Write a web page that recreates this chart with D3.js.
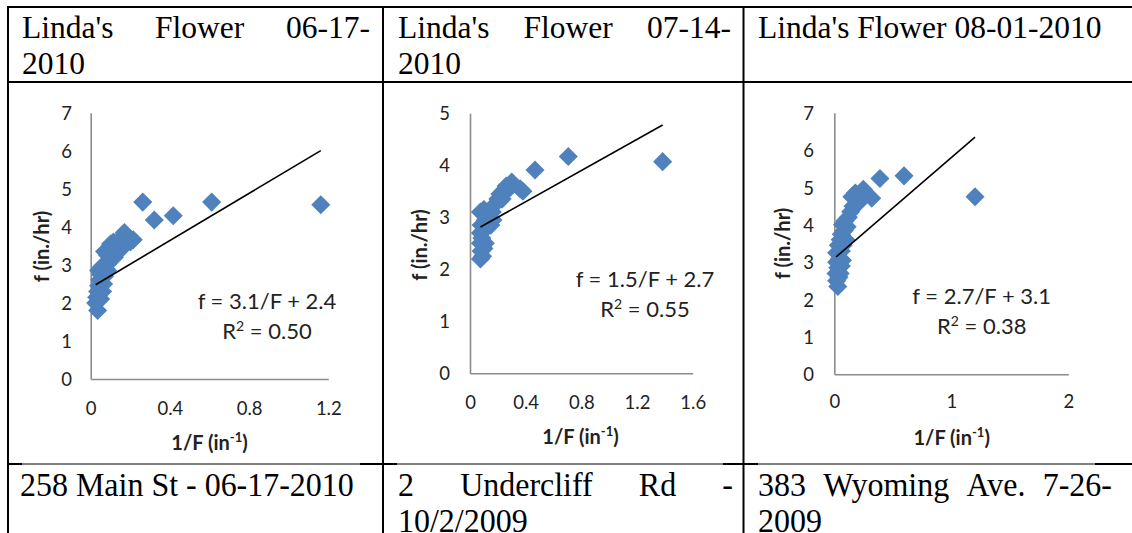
<!DOCTYPE html>
<html><head><meta charset="utf-8">
<script src="https://cdn.jsdelivr.net/npm/d3@7"></script>
<style>body{margin:0;background:#fff}svg{display:block}</style>
</head><body>
<svg id="c" width="1132" height="533"></svg>
<script>
// ---------- DATA ----------
const headerTitles = [["Linda's Flower 06-17-", "2010"], ["Linda's Flower 07-14-", "2010"], ["Linda's Flower 08-01-2010"]];
const footerTitles = [["258 Main St - 06-17-2010"], ["2 Undercliff Rd -", "10/2/2009"], ["383 Wyoming Ave. 7-26-", "2009"]];

const chart1X = [0.035,0.025,0.030,0.035,0.040,0.045,0.050,0.040,0.055,0.070,0.065,0.060,0.050,0.075,0.090,0.085,0.070,0.095,0.100,0.115,0.110,0.100,0.120,0.140,0.135,0.150,0.160,0.170,0.185,0.200,0.215,0.160,0.085,0.263,0.321,0.417,0.611,1.162];
const chart1Y = [1.80,2.00,2.15,2.30,2.45,2.60,2.75,2.85,2.95,2.70,2.50,2.30,2.10,2.90,3.05,3.25,3.35,3.40,3.55,3.60,3.45,3.20,3.20,3.35,3.55,3.65,3.75,3.85,3.70,3.60,3.66,3.45,2.85,4.65,4.18,4.29,4.65,4.58];

const chart2X = [0.075,0.090,0.080,0.100,0.075,0.110,0.085,0.075,0.100,0.120,0.150,0.165,0.080,0.110,0.075,0.100,0.130,0.160,0.180,0.200,0.215,0.240,0.260,0.300,0.280,0.360,0.380,0.230,0.467,0.706,1.384];
const chart2Y = [2.20,2.25,2.35,2.40,2.50,2.50,2.60,2.70,2.75,2.80,2.85,2.95,2.85,2.95,3.10,3.15,3.10,3.10,3.25,3.35,3.45,3.50,3.60,3.68,3.55,3.55,3.50,3.35,3.91,4.17,4.07];

const chart3X = [0.030,0.020,0.040,0.015,0.050,0.030,0.060,0.020,0.045,0.070,0.020,0.060,0.035,0.075,0.050,0.100,0.060,0.085,0.070,0.110,0.090,0.120,0.140,0.160,0.190,0.150,0.180,0.220,0.248,0.210,0.320,0.390,0.596,1.203];
const chart3Y = [2.35,2.50,2.60,2.70,2.70,2.85,2.90,3.00,3.10,3.05,3.25,3.30,3.45,3.45,3.60,3.60,3.75,3.85,4.00,3.95,4.10,4.20,4.35,4.50,4.55,4.75,4.85,4.75,4.95,4.60,4.71,5.24,5.31,4.75];

const xTicks1 = [0, 0.4, 0.8, 1.2];
const xTicks2 = [0, 0.4, 0.8, 1.2, 1.6];
const xTicks3 = [0, 1, 2];
const yTicks1 = [0, 1, 2, 3, 4, 5, 6, 7];
const yTicks2 = [0, 1, 2, 3, 4, 5];
const yTicks3 = [0, 1, 2, 3, 4, 5, 6, 7];

const trendSlopes = [3.1, 1.5, 2.7];
const trendIntercepts = [2.4, 2.7, 3.1];
const equationLabels = ["f = 3.1/F + 2.4", "f = 1.5/F + 2.7", "f = 2.7/F + 3.1"];
const r2Labels = ["0.50", "0.55", "0.38"];
const xTitle = ["1/F (in", "-1", ")"];
const yTitle = "f (in./hr)";

// ---------- LAYOUT ----------
const svg = d3.select("#c");
const serif = "'Liberation Serif','Times New Roman',serif";
const sans = "Lato, 'Open Sans', sans-serif";

const panels = [
  {xs: chart1X, ys: chart1Y, xt: xTicks1, yt: yTicks1, xFmt: d => d === 0 ? "0" : d3.format(".1f")(d),
   L: 90.7, R: 328.3, T: 112.7, B: 379, xMax: 1.2, yMax: 7, yLabEnd: 72, xLabBase: 415,
   xTitle: [209.5, 450], yTitle: [42, 246.5], eq: [267, 309], r2: [267, 339]},
  {xs: chart2X, ys: chart2Y, xt: xTicks2, yt: yTicks2, xFmt: d => d === 0 ? "0" : d3.format(".1f")(d),
   L: 470, R: 692.7, T: 113.3, B: 373.3, xMax: 1.6, yMax: 5, yLabEnd: 450, xLabBase: 409,
   xTitle: [580.5, 444], yTitle: [420, 245], eq: [645, 287], r2: [645, 317]},
  {xs: chart3X, ys: chart3Y, xt: xTicks3, yt: yTicks3, xFmt: d => String(d),
   L: 834.3, R: 1068.3, T: 112.7, B: 374.3, xMax: 2, yMax: 7, yLabEnd: 814, xLabBase: 408,
   xTitle: [951.7, 445], yTitle: [783.3, 243.5], eq: [981.7, 304], r2: [981.7, 334]}
];

panels.forEach((p, i) => {
  const x = d3.scaleLinear().domain([0, p.xMax]).range([p.L, p.R]);
  const y = d3.scaleLinear().domain([0, p.yMax]).range([p.B, p.T]);
  const g = svg.append("g");

  // axes
  const gx = g.append("g").attr("transform", `translate(0,${p.B})`)
    .call(d3.axisBottom(x).tickValues(p.xt).tickFormat(p.xFmt).tickSize(0).tickSizeOuter(0));
  const gy = g.append("g").attr("transform", `translate(${p.L},0)`)
    .call(d3.axisLeft(y).tickValues(p.yt).tickFormat(d3.format("d")).tickSize(0).tickSizeOuter(0));
  [gx, gy].forEach(a => {
    a.attr("font-family", null).attr("font-size", null);
    a.select(".domain").attr("stroke", "#8c8c8c").attr("stroke-width", 1.6);
    a.selectAll("text").attr("font-family", sans).attr("font-size", 18.5).attr("fill", "#222");
  });
  gx.selectAll("text").attr("y", p.xLabBase - p.B).attr("dy", null);
  gy.selectAll("text").attr("x", p.yLabEnd - p.L).attr("dy", "0.36em");

  // trendline
  const xmin = d3.min(p.xs), xmax = d3.max(p.xs);
  const tl = [xmin, xmax].map(v => [v, trendSlopes[i] * v + trendIntercepts[i]]);

  // markers
  const sym = d3.symbol(d3.symbolSquare, 182)();
  g.append("g").selectAll("path").data(p.xs.map((v, k) => [v, p.ys[k]])).join("path")
    .attr("d", sym)
    .attr("transform", d => `translate(${x(d[0])},${y(d[1])}) rotate(45)`)
    .attr("fill", "#4f81bd");

  g.append("path").datum(tl)
    .attr("d", d3.line().x(d => x(d[0])).y(d => y(d[1])))
    .attr("stroke", "#000").attr("stroke-width", 1.6).attr("fill", "none");

  // equation
  g.append("text").attr("x", p.eq[0]).attr("y", p.eq[1]).attr("text-anchor", "middle")
    .attr("font-family", sans).attr("font-size", 22).attr("fill", "#222").text(equationLabels[i]);
  const r2 = g.append("text").attr("x", p.r2[0]).attr("y", p.r2[1]).attr("text-anchor", "middle")
    .attr("font-family", sans).attr("font-size", 22).attr("fill", "#222");
  r2.append("tspan").text("R");
  r2.append("tspan").attr("font-size", 14).attr("dy", -8).text("2");
  r2.append("tspan").attr("dy", 8).text(" = " + r2Labels[i]);

  // axis titles
  const xt = g.append("text").attr("x", p.xTitle[0]).attr("y", p.xTitle[1]).attr("text-anchor", "middle")
    .attr("font-family", sans).attr("font-size", 20).attr("font-weight", "bold").attr("fill", "#222");
  xt.append("tspan").text(xTitle[0]);
  xt.append("tspan").attr("font-size", 13).attr("dy", -8).text(xTitle[1]);
  xt.append("tspan").attr("dy", 8).text(xTitle[2]);
  g.append("text").attr("transform", `translate(${p.yTitle[0]},${p.yTitle[1]}) rotate(-90)`)
    .attr("text-anchor", "middle").attr("dy", "0.35em")
    .attr("font-family", sans).attr("font-size", 20).attr("font-weight", "bold").attr("fill", "#222")
    .text(yTitle);
});

// ---------- TABLE TEXT ----------
function drawLine(str, L, R, y, size, justify, squeeze) {
  const words = justify ? str.split(" ") : [str];
  const ts = words.map(w => svg.append("text").attr("y", y).attr("font-size", size)
    .attr("font-family", serif).attr("fill", "#000").text(w));
  const widths = ts.map(t => t.node().getComputedTextLength() * squeeze);
  if (squeeze !== 1) ts.forEach((t, k) => t.attr("textLength", widths[k]).attr("lengthAdjust", "spacingAndGlyphs"));
  let gap = 0;
  if (justify && words.length > 1) gap = (R - L - d3.sum(widths)) / (words.length - 1);
  let xx = L;
  ts.forEach((t, k) => { t.attr("x", xx); xx += widths[k] + gap; });
}
const colL = [22, 398, 758], colR = [370, 731, 1100];
headerTitles.forEach((lines, c) => {
  lines.forEach((s, j) => drawLine(s, colL[c], colR[c], 37.5 + j * 36.5, 31.5, j < lines.length - 1, 1));
});
const footL = [20, 398, 758], footR = [357, 733, 1112];
footerTitles.forEach((lines, c) => {
  lines.forEach((s, j) => drawLine(s, footL[c], footR[c], 496 + j * 35.5, 34, j < lines.length - 1, 0.94));
});

// ---------- TABLE BORDERS ----------
const hLines = [[7, 7, 1132], [82, 7, 1132]];
hLines.forEach(h => svg.append("line").attr("x1", h[1]).attr("x2", h[2]).attr("y1", h[0]).attr("y2", h[0])
  .attr("stroke", "#000").attr("stroke-width", 2));
svg.append("line").attr("x1", 7).attr("x2", 1132).attr("y1", 464).attr("y2", 464).attr("stroke", "#000").attr("stroke-width", 1);
[[7, 22], [360, 397], [723, 758], [1095, 1132]].forEach(s => svg.append("line")
  .attr("x1", s[0]).attr("x2", s[1]).attr("y1", 464).attr("y2", 464).attr("stroke", "#000").attr("stroke-width", 2));
[8, 383, 743.5].forEach(xv => svg.append("line").attr("x1", xv).attr("x2", xv).attr("y1", 6).attr("y2", 533)
  .attr("stroke", "#000").attr("stroke-width", 2));
</script>
</body></html>
